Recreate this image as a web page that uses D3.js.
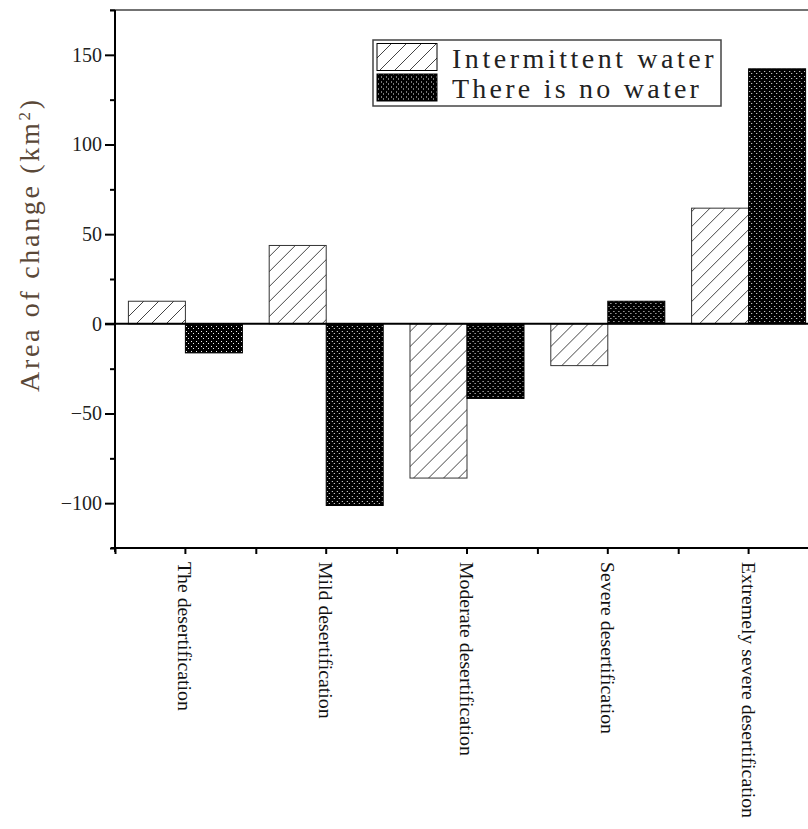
<!DOCTYPE html>
<html>
<head>
<meta charset="utf-8">
<script src="https://cdn.jsdelivr.net/npm/d3@7"></script>
<style>
  body { margin: 0; background: #fff; }
  svg { display: block; }
</style>
</head>
<body>
<div id="chart"></div>
<script>
// data
var categories = ["The desertification", "Mild desertification", "Moderate desertification",
                  "Severe desertification", "Extremely severe desertification"];
var seriesNames = ["Intermittent water", "There is no water"];
var intermittent = [12.6, 43.7, -86, -23.3, 64.5];
var noWater = [-16.2, -101.3, -41.6, 12.6, 142.2];
var yMajorTicks = [-100, -50, 0, 50, 100, 150];
var yMinorTicks = [-125, -75, -25, 25, 75, 125, 175];

var width = 808, height = 829;
var plotLeft = 115, plotRight = 819, plotTop = 10, plotBottom = 548;

var svg = d3.select("#chart").append("svg")
  .attr("width", width)
  .attr("height", height);

// patterns
var defs = svg.append("defs");
var hatch = defs.append("pattern")
  .attr("id", "hatch")
  .attr("patternUnits", "userSpaceOnUse")
  .attr("width", 15).attr("height", 15);
hatch.append("rect").attr("width", 15).attr("height", 15).attr("fill", "#fff");
hatch.append("path")
  .attr("d", "M0,15 L15,0 M-4,4 L4,-4 M11,19 L19,11")
  .attr("stroke", "#444").attr("stroke-width", 1);

var dots = defs.append("pattern")
  .attr("id", "dots")
  .attr("patternUnits", "userSpaceOnUse")
  .attr("width", 5).attr("height", 5);
dots.append("rect").attr("width", 5).attr("height", 5).attr("fill", "#000");
dots.append("rect").attr("x", 1).attr("y", 1).attr("width", 1).attr("height", 1).attr("fill", "#eee");
dots.append("rect").attr("x", 3).attr("y", 3).attr("width", 1).attr("height", 1).attr("fill", "#eee");

var fills = ["url(#hatch)", "url(#dots)"];
var strokes = ["#333", "#000"];

// scales
var x0 = d3.scaleBand().domain(categories).range([plotLeft, plotRight]);
var x1 = d3.scaleBand().domain(seriesNames).range([0, x0.bandwidth()]).paddingOuter(0.235);
var y = d3.scaleLinear().domain([-125, 175]).range([plotBottom, plotTop]);

var rows = categories.map(function(c, i) {
  return { cat: c, values: [
    { name: seriesNames[0], v: intermittent[i] },
    { name: seriesNames[1], v: noWater[i] }
  ]};
});

// bars
var groups = svg.append("g").selectAll("g")
  .data(rows).enter().append("g")
  .attr("transform", function(d) { return "translate(" + x0(d.cat) + ",0)"; });

groups.selectAll("rect")
  .data(function(d) { return d.values; })
  .enter().append("rect")
  .attr("x", function(d) { return x1(d.name); })
  .attr("width", x1.bandwidth())
  .attr("y", function(d) { return y(Math.max(0, d.v)); })
  .attr("height", function(d) { return Math.abs(y(d.v) - y(0)); })
  .attr("fill", function(d, i) { return fills[i]; })
  .attr("stroke", function(d, i) { return strokes[i]; })
  .attr("stroke-width", 1);

// zero line
svg.append("line")
  .attr("x1", plotLeft - 10).attr("x2", width)
  .attr("y1", y(0)).attr("y2", y(0))
  .attr("stroke", "#000").attr("stroke-width", 2);

// top frame line
svg.append("line")
  .attr("x1", plotLeft - 5).attr("x2", width)
  .attr("y1", plotTop).attr("y2", plotTop)
  .attr("stroke", "#444").attr("stroke-width", 1.5);

// y axis
var yAxis = svg.append("g")
  .attr("transform", "translate(" + plotLeft + ",0)")
  .call(d3.axisLeft(y).tickValues(yMajorTicks).tickSize(10).tickPadding(3)
    .tickFormat(function(d) { return d < 0 ? "\u2212" + Math.abs(d) : d; }));
yAxis.select(".domain").attr("stroke-width", 2).attr("d", "M0," + plotTop + "V" + (plotBottom + 4));
yAxis.selectAll(".tick line").attr("stroke-width", 2);
yAxis.selectAll(".tick text")
  .attr("font-family", "'Liberation Serif', serif")
  .attr("font-size", 20)
  .attr("fill", "#222");

var yMinor = svg.append("g")
  .attr("transform", "translate(" + plotLeft + ",0)")
  .call(d3.axisLeft(y).tickValues(yMinorTicks).tickSize(5).tickFormat(""));
yMinor.select(".domain").remove();
yMinor.selectAll(".tick line").attr("stroke-width", 2);

// x axis
var xAxis = svg.append("g")
  .attr("transform", "translate(0," + plotBottom + ")")
  .call(d3.axisBottom(x0).tickSize(6).tickFormat(""));
xAxis.select(".domain").attr("stroke-width", 2).attr("d", "M" + (plotLeft - 4) + ",0H" + plotRight);
xAxis.selectAll(".tick line").attr("stroke-width", 2);

var xEdge = d3.scaleLinear().domain([0, categories.length]).range([plotLeft, plotRight]);
var xMinor = svg.append("g")
  .attr("transform", "translate(0," + plotBottom + ")")
  .call(d3.axisBottom(xEdge).ticks(categories.length).tickSize(6).tickFormat(""));
xMinor.select(".domain").remove();
xMinor.selectAll(".tick line").attr("stroke-width", 2);

// category labels, rotated
svg.append("g").selectAll("text")
  .data(categories).enter().append("text")
  .attr("transform", function(d) {
    return "translate(" + (x0(d) + x0.bandwidth() / 2) + "," + (plotBottom + 14) + ") rotate(90)";
  })
  .attr("dy", "0.35em")
  .attr("font-family", "'Liberation Serif', 'Times New Roman', serif")
  .attr("font-size", 19.8)
  .attr("fill", "#111")
  .text(function(d) { return d; });

// y title
var yTitle = svg.append("text")
  .attr("transform", "translate(39,246) rotate(-90)")
  .attr("text-anchor", "middle")
  .attr("font-family", "'Liberation Serif', serif")
  .attr("font-size", 28)
  .attr("fill", "#5a4838")
  .attr("textLength", 292)
  .attr("lengthAdjust", "spacing");
yTitle.append("tspan").text("Area of change (km");
yTitle.append("tspan").attr("baseline-shift", "super").attr("font-size", 17).text("2");
yTitle.append("tspan").text(")");

// legend
var legend = svg.append("g");
legend.append("rect")
  .attr("x", 373).attr("y", 40)
  .attr("width", 348).attr("height", 66)
  .attr("fill", "#fff").attr("stroke", "#444").attr("stroke-width", 1.5);

var lg = legend.selectAll("g.item")
  .data(seriesNames).enter().append("g").attr("class", "item")
  .attr("transform", function(d, i) { return "translate(0," + (i * 30.5) + ")"; });
lg.append("rect")
  .attr("x", 377).attr("y", 43.5)
  .attr("width", 60).attr("height", 27)
  .attr("fill", function(d, i) { return fills[i]; })
  .attr("stroke", "#000").attr("stroke-width", 1);
lg.append("text")
  .attr("x", 452).attr("y", 67.5)
  .attr("font-family", "'Liberation Serif', serif")
  .attr("font-size", 28)
  .attr("fill", "#222")
  .attr("textLength", function(d) { return d.length * 14.7 - 3; })
  .attr("lengthAdjust", "spacing")
  .text(function(d) { return d; });
</script>
</body>
</html>
